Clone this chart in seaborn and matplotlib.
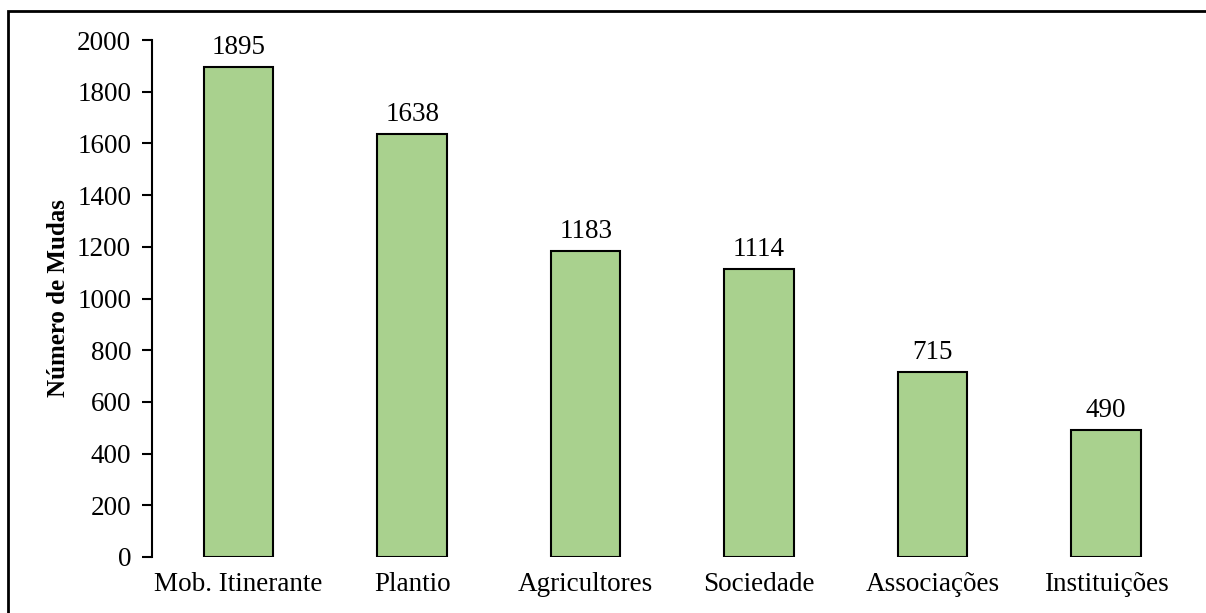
import pandas as pd
import matplotlib
matplotlib.use("Agg")
import matplotlib.pyplot as plt
import seaborn as sns
from matplotlib.patches import Rectangle

# Dados
categorias = ["Mob. Itinerante", "Plantio", "Agricultores", "Sociedade", "Associações", "Instituições"]
mudas = [1895, 1638, 1183, 1114, 715, 490]

df = pd.DataFrame({"Categoria": categorias, "Mudas": mudas})

sns.set_style("white")
plt.rcParams["font.family"] = ["Liberation Serif", "DejaVu Serif"]
plt.rcParams["text.color"] = "black"
plt.rcParams["axes.labelcolor"] = "black"
plt.rcParams["xtick.color"] = "black"
plt.rcParams["ytick.color"] = "black"

fig = plt.figure(figsize=(12.06, 6.13), dpi=100)
ax = fig.add_axes([0.126, 0.0914, 0.863, 0.8433])

sns.barplot(data=df, x="Categoria", y="Mudas", color="#A9D18E", edgecolor="black",
            linewidth=1.5, width=0.4, saturation=1, ax=ax)

for i, v in enumerate(mudas):
    ax.annotate(str(v), (i, v), xytext=(0, 5), textcoords="offset points",
                ha="center", va="bottom", fontsize=19.5, color="black")

ax.set_ylim(0, 2000)
ax.set_xlim(-0.5, 5.5)
ax.set_yticks(range(0, 2001, 200))
ax.set_xlabel("")
ax.set_ylabel("Número de Mudas", fontsize=18, fontweight="bold", labelpad=5)
ax.tick_params(axis="y", which="both", left=True, direction="out", length=7, width=1.5,
               labelsize=19.5, pad=8, color="black", labelcolor="black")
ax.tick_params(axis="x", bottom=False, labelsize=19.5, pad=7, labelcolor="black")
for s in ["top", "right", "bottom"]:
    ax.spines[s].set_visible(False)
ax.spines["left"].set_color("black")
ax.spines["left"].set_linewidth(1.5)

# Moldura externa
fig.patches.append(Rectangle((8 / 1206, -0.01), 1.2, 1 - 11 / 613 + 0.01,
                             transform=fig.transFigure, fill=False,
                             edgecolor="black", linewidth=2, clip_on=False))

fig.savefig("out.png", dpi=100)
